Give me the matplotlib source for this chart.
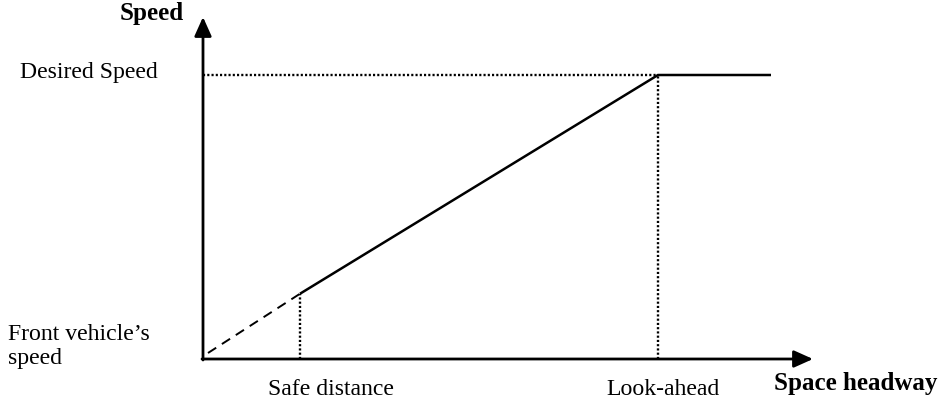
import matplotlib
matplotlib.use("Agg")
import matplotlib.pyplot as plt

# Conceptual data (units ~ pixels from the origin)
headway_safe = 97
headway_lookahead = 455
headway_end = 568
speed_front = 6
speed_desired = 284
axis_x_len = 610
axis_y_len = 342
headway_labels = ["Safe distance", "Look-ahead"]
speed_labels = ["Front vehicle\u2019s\nspeed", "Desired Speed"]

ox, oy = 203, 359  # origin pixel location
fig = plt.figure(figsize=(9.41, 4.05), dpi=100)
ax = fig.add_axes([0, 0, 1, 1])
ax.set_xlim(-ox, 941 - ox)
ax.set_ylim(-(405 - oy), oy)
ax.axis("off")

fs = 17.1
fsb = 18.0
font = "Liberation Serif"

# Speed at safe distance along the linear segment
speed_safe = speed_front + (speed_desired - speed_front) * headway_safe / headway_lookahead

# Axes arrows
arrow = dict(arrowstyle="-|>,head_length=0.58,head_width=0.26", color="black",
             lw=2.0, mutation_scale=20, shrinkA=0, shrinkB=0)
ax.annotate("", xy=(0, axis_y_len), xytext=(0, -1), arrowprops=arrow)
ax.annotate("", xy=(axis_x_len, 0), xytext=(-1, 0), arrowprops=arrow)

# Dashed segment from origin to safe distance
ax.plot([0 + 5, headway_safe], [speed_front, speed_safe], color="black", lw=1.4,
        dashes=(5, 3.5))
# Solid segment
ax.plot([headway_safe, headway_lookahead, headway_end],
        [speed_safe, speed_desired, speed_desired], color="black", lw=1.8,
        solid_capstyle="butt")
# Dotted guides
dot = dict(color="black", lw=1.7, dashes=(0.9, 0.9))
ax.plot([headway_safe, headway_safe], [0, speed_safe], **dot)
ax.plot([headway_lookahead, headway_lookahead], [0, speed_desired], **dot)
ax.plot([0, headway_lookahead], [speed_desired, speed_desired], **dot)

# Texts
ax.text(152 - ox, oy - 20, "Speed", fontsize=fsb, fontweight="bold", family=font,
        ha="center", va="baseline")
ax.text(20 - ox, oy - 78, speed_labels[1], fontsize=fs, family=font,
        ha="left", va="baseline")
ax.text(8 - ox, oy - 340, speed_labels[0].split("\n")[0], fontsize=fs, family=font,
        ha="left", va="baseline")
ax.text(8 - ox, oy - 364, speed_labels[0].split("\n")[1], fontsize=fs, family=font,
        ha="left", va="baseline")
ax.text(headway_safe + 31, oy - 395, headway_labels[0], fontsize=fs, family=font,
        ha="center", va="baseline")
ax.text(headway_lookahead + 5, oy - 395, headway_labels[1], fontsize=fs, family=font,
        ha="center", va="baseline")
ax.text(856 - ox, oy - 390, "Space headway", fontsize=fsb, fontweight="bold", family=font,
        ha="center", va="baseline")

fig.savefig("out.png", dpi=100)
